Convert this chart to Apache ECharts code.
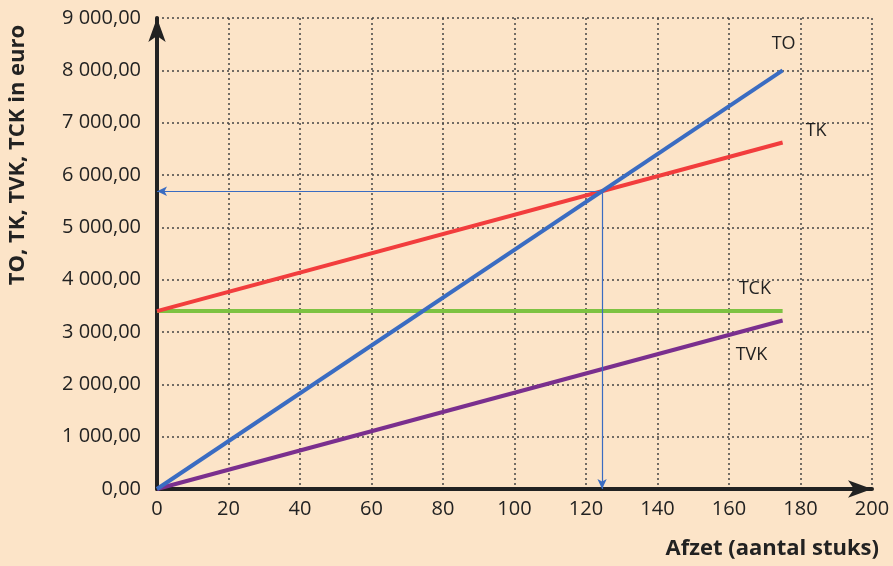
<!DOCTYPE html>
<html>
<head>
    <meta charset="UTF-8">
    <title>TO, TK, TVK, TCK</title>
    <style>
        body, html { width: 100%; height: 100%; margin: 0; padding: 0; background: #fce4c8; }
        #myChart { width: 893px; height: 566px; }
    </style>
    <script src="https://cdn.jsdelivr.net/npm/echarts@6/dist/echarts.min.js"></script>
</head>
<body>
    <div id="myChart"></div>
    <script>
        // data
        let afzet = [0, 175];
        let to = [0, 8000];
        let tk = [3400, 6620];
        let tck = [3400, 3400];
        let tvk = [0, 3220];
        let breakEven = [124.5, 5690];

        let myEcharts = echarts.init(document.querySelector('#myChart'));

        // euro label: 9 000,00
        function euro(v) {
            let s = String(Math.round(v)).replace(/\B(?=(\d{3})+(?!\d))/g, ' ');
            return s + ',00';
        }

        function pts(ys) {
            return afzet.map((x, i) => [x, ys[i]]);
        }

        const font = 'Open Sans';

        function lineSeries(name, ys, color, offset) {
            return {
                name: name,
                type: 'line',
                data: pts(ys),
                symbol: 'none',
                lineStyle: { color: color, width: 4 },
                endLabel: { show: true, formatter: name, offset: offset,
                    color: '#222', fontSize: 18, fontFamily: font },
                z: 3
            };
        }

        let option = {
            backgroundColor: '#fce4c8',
            animation: false,
            grid: { left: 157, right: 21, top: 18, bottom: 77 },
            xAxis: {
                type: 'value', min: 0, max: 200, interval: 20,
                axisLine: { onZero: false, symbol: ['none', 'arrow'], symbolSize: [13, 24],
                    lineStyle: { color: '#222', width: 4 } },
                axisTick: { show: false },
                axisLabel: { color: '#222', fontSize: 20, fontFamily: font, margin: 10 },
                splitLine: { lineStyle: { color: '#444', type: [2, 3], width: 1.5 } }
            },
            yAxis: {
                type: 'value', min: 0, max: 9000, interval: 1000,
                axisLine: { show: true, onZero: false, symbol: ['none', 'arrow'], symbolSize: [13, 24],
                    lineStyle: { color: '#222', width: 4 } },
                axisTick: { show: false },
                axisLabel: { color: '#222', fontSize: 20, fontFamily: font, margin: 16, formatter: euro },
                splitLine: { lineStyle: { color: '#444', type: [2, 3], width: 1.5 } }
            },
            graphic: [
                { type: 'text', x: 18, y: 155, rotation: Math.PI / 2,
                  style: { text: 'TO, TK, TVK, TCK in euro', fill: '#222', fontSize: 22,
                      fontWeight: 'bold', fontFamily: font, align: 'center', verticalAlign: 'middle' } },
                { type: 'text', right: 14, top: 538,
                  style: { text: 'Afzet (aantal stuks)', fill: '#222', fontSize: 22,
                      fontWeight: 'bold', fontFamily: font } }
            ],
            series: [
                lineSeries('TCK', tck, '#7dc242', [-52, -22]),
                lineSeries('TVK', tvk, '#7a2f8e', [-55, 34]),
                lineSeries('TK', tk, '#f23d3d', [15, -12]),
                lineSeries('TO', to, '#3a6cc2', [-19, -26]),
                {
                    name: 'pijlen',
                    type: 'line',
                    data: [],
                    symbol: 'none',
                    z: 4,
                    markLine: {
                        silent: true,
                        symbol: ['none', 'arrow'],
                        symbolSize: [7, 10],
                        label: { show: false },
                        lineStyle: { color: '#3a6cc2', width: 1.2, type: 'solid' },
                        data: [
                            [{ coord: breakEven }, { coord: [0, breakEven[1]] }],
                            [{ coord: breakEven }, { coord: [breakEven[0], 0] }]
                        ]
                    }
                }
            ]
        };
        myEcharts.setOption(option, true);
    </script>
</body>
</html>
